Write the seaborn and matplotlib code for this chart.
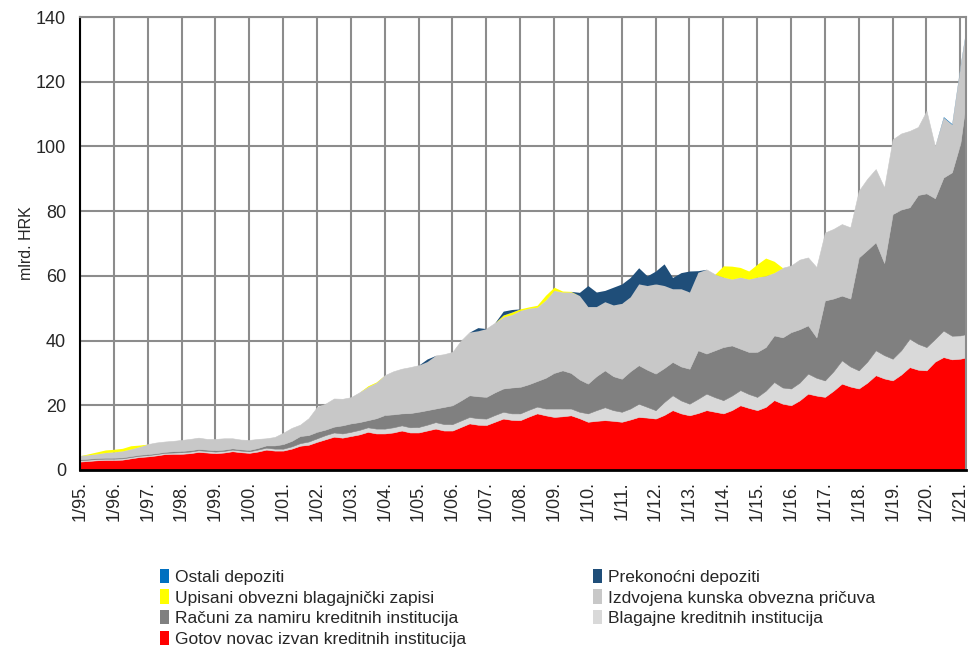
import numpy as np
import pandas as pd
import seaborn as sns
import matplotlib.pyplot as plt
from matplotlib.patches import Patch

# quarterly observations (Jan, Apr, Jul, Oct), last observation Mar 2021
quarters = list(pd.date_range("1995-01-01", "2021-01-01", freq="QS")) + [pd.Timestamp("2021-03-01")]

# mlrd. HRK, one row per year
gotov_novac = [
    2.6, 2.8, 3.0, 3.1,
    3.1, 3.2, 3.6, 4.0,
    4.2, 4.5, 4.9, 5.0,
    5.0, 5.2, 5.6, 5.4,
    5.2, 5.4, 5.8, 5.5,
    5.3, 5.7, 6.3, 6.0,
    6.0, 6.6, 7.5, 7.8,
    8.7, 9.5, 10.3, 10.0,
    10.5, 11.0, 11.8, 11.3,
    11.3, 11.6, 12.2, 11.6,
    11.6, 12.2, 12.8, 12.2,
    12.2, 13.3, 14.4, 14.0,
    13.9, 14.9, 15.9, 15.5,
    15.4, 16.5, 17.5, 16.9,
    16.4, 16.6, 16.9, 16.0,
    14.9, 15.2, 15.4, 15.2,
    14.9, 15.6, 16.4, 16.2,
    15.9, 17.0, 18.5, 17.5,
    16.9, 17.6, 18.5, 18.0,
    17.5, 18.5, 20.0, 19.2,
    18.5, 19.5, 21.6, 20.5,
    20.0, 21.5, 23.6, 23.0,
    22.6, 24.5, 26.7, 25.8,
    25.2, 27.0, 29.3, 28.3,
    27.7, 29.5, 31.8, 31.0,
    30.8, 33.5, 34.9, 34.2,
    34.4, 34.8,
]
blagajne = [
    0.4, 0.4, 0.4, 0.4,
    0.4, 0.4, 0.4, 0.4,
    0.4, 0.4, 0.4, 0.4,
    0.5, 0.5, 0.5, 0.5,
    0.5, 0.5, 0.5, 0.5,
    0.5, 0.6, 0.6, 0.6,
    0.6, 0.7, 0.8, 1.0,
    1.1, 1.3, 1.3, 1.3,
    1.3, 1.4, 1.4, 1.5,
    1.5, 1.6, 1.6, 1.6,
    1.7, 1.8, 2.0, 2.0,
    2.0, 2.0, 2.0, 2.0,
    2.0, 2.1, 2.1, 2.0,
    2.1, 2.1, 2.1, 2.1,
    2.6, 2.4, 2.1, 2.0,
    2.6, 3.3, 4.0, 3.3,
    3.1, 3.4, 4.1, 3.3,
    2.6, 4.0, 4.6, 4.0,
    3.6, 4.4, 5.1, 4.5,
    4.1, 4.5, 4.7, 4.3,
    4.1, 5.0, 5.6, 5.0,
    5.2, 5.5, 6.2, 5.5,
    5.1, 6.0, 7.2, 6.2,
    5.6, 6.5, 7.7, 7.2,
    6.7, 7.5, 8.8, 8.0,
    7.2, 7.0, 8.2, 7.3,
    7.2, 7.2,
]
racuni = [
    0.3, 0.3, 0.3, 0.3,
    0.3, 0.3, 0.3, 0.3,
    0.3, 0.3, 0.3, 0.4,
    0.4, 0.4, 0.4, 0.4,
    0.4, 0.4, 0.4, 0.4,
    0.4, 0.5, 0.7, 1.0,
    1.4, 1.7, 2.2, 2.0,
    2.0, 1.7, 1.8, 2.5,
    2.6, 2.4, 2.2, 3.2,
    4.2, 4.0, 3.7, 4.4,
    4.7, 4.5, 4.2, 5.3,
    5.8, 6.2, 6.7, 6.8,
    6.7, 7.0, 7.2, 8.0,
    8.2, 7.9, 7.9, 9.5,
    11.0, 11.8, 11.0, 10.0,
    9.2, 10.5, 11.4, 10.5,
    10.2, 11.5, 11.9, 11.5,
    11.3, 10.5, 10.3, 10.5,
    10.8, 15.0, 12.4, 14.5,
    16.4, 15.5, 12.8, 13.0,
    13.9, 13.5, 14.4, 15.5,
    17.4, 16.5, 14.9, 12.5,
    24.7, 22.5, 20.0, 21.0,
    34.9, 34.5, 33.4, 28.5,
    44.7, 43.5, 40.6, 46.0,
    47.5, 43.5, 47.3, 50.5,
    59.4, 72.0,
]
pricuva = [
    1.1, 1.2, 1.3, 1.6,
    1.8, 2.0, 2.2, 2.5,
    3.1, 3.3, 3.2, 3.2,
    3.4, 3.5, 3.5, 3.3,
    3.5, 3.5, 3.1, 3.0,
    3.1, 2.8, 2.2, 2.6,
    3.5, 4.0, 3.5, 5.2,
    7.7, 8.0, 8.7, 8.2,
    8.1, 9.2, 10.3, 11.0,
    12.3, 13.3, 13.8, 14.2,
    14.4, 15.0, 16.4, 16.3,
    16.5, 18.5, 19.5, 20.2,
    21.1, 21.5, 22.1, 22.5,
    23.6, 23.5, 22.8, 24.0,
    25.5, 24.2, 25.0, 25.9,
    23.8, 21.5, 21.2, 22.0,
    23.3, 23.0, 25.1, 26.0,
    27.7, 25.5, 22.6, 24.0,
    23.7, 24.1, 26.0, 23.5,
    21.6, 20.5, 22.1, 22.5,
    23.1, 22.0, 19.4, 21.5,
    20.6, 21.5, 21.0, 21.7,
    21.0, 21.5, 22.1, 22.0,
    20.6, 22.0, 22.6, 23.3,
    23.1, 23.5, 23.6, 21.0,
    25.5, 16.0, 18.6, 14.8,
    24.0, 22.0,
]
upisani_zapisi = [
    0.0, 0.3, 0.6, 0.8,
    0.8, 0.8, 1.0, 0.5,
    0.0, 0.0, 0.0, 0.0,
    0.0, 0.0, 0.0, 0.0,
    0.0, 0.0, 0.0, 0.0,
    0.0, 0.0, 0.0, 0.0,
    0.0, 0.0, 0.0, 0.0,
    0.0, 0.0, 0.0, 0.0,
    0.0, 0.0, 0.3, 0.2,
    0.0, 0.0, 0.0, 0.0,
    0.0, 0.0, 0.0, 0.0,
    0.0, 0.0, 0.0, 0.0,
    0.0, 0.0, 0.6, 0.8,
    0.5, 0.4, 0.6, 1.5,
    1.0, 0.3, 0.2, 0.0,
    0.0, 0.0, 0.0, 0.0,
    0.0, 0.0, 0.0, 0.0,
    0.0, 0.0, 0.0, 0.0,
    0.0, 0.0, 0.0, 0.0,
    3.5, 4.0, 3.0, 2.5,
    4.0, 5.5, 3.5, 0.0,
    0.0, 0.0, 0.0, 0.0,
    0.0, 0.0, 0.0, 0.0,
    0.0, 0.0, 0.0, 0.0,
    0.0, 0.0, 0.0, 0.0,
    0.0, 0.0, 0.0, 0.0,
    0.0, 0.0,
]
prekonocni = [
    0.0, 0.0, 0.0, 0.0,
    0.0, 0.0, 0.0, 0.0,
    0.0, 0.0, 0.0, 0.0,
    0.0, 0.0, 0.0, 0.0,
    0.0, 0.0, 0.0, 0.0,
    0.0, 0.0, 0.0, 0.0,
    0.0, 0.0, 0.0, 0.0,
    0.0, 0.0, 0.0, 0.0,
    0.0, 0.0, 0.0, 0.0,
    0.0, 0.0, 0.0, 0.0,
    0.0, 0.8, 0.0, 0.0,
    0.0, 0.0, 0.0, 1.0,
    0.0, 0.0, 1.2, 0.8,
    0.0, 0.0, 0.0, 0.0,
    0.0, 0.0, 0.0, 1.0,
    6.5, 4.5, 3.5, 5.5,
    6.0, 6.0, 5.0, 3.0,
    4.0, 6.7, 3.5, 5.0,
    6.5, 0.5, 0.0, 0.0,
    0.0, 0.0, 0.0, 0.0,
    0.0, 0.0, 0.0, 0.0,
    0.0, 0.0, 0.0, 0.0,
    0.0, 0.0, 0.0, 0.0,
    0.0, 0.0, 0.0, 0.0,
    0.0, 0.0, 0.0, 0.0,
    0.0, 0.0, 0.0, 0.0,
    0.0, 0.0,
]
ostali = [0.0] * 102 + [0.2, 0.2, 0.2, 0.2]

labels = [
    "Gotov novac izvan kreditnih institucija",
    "Blagajne kreditnih institucija",
    "Računi za namiru kreditnih institucija",
    "Izdvojena kunska obvezna pričuva",
    "Upisani obvezni blagajnički zapisi",
    "Prekonoćni depoziti",
    "Ostali depoziti",
]
colors = ["#ff0000", "#d9d9d9", "#808080", "#c8c8c8", "#ffff00", "#1f4e79", "#0070c0"]

x = np.array([q.year + (q.month - 1) / 12 for q in quarters])
series = [gotov_novac, blagajne, racuni, pricuva, upisani_zapisi, prekonocni, ostali]

sns.set_style("whitegrid")
plt.rcParams["font.family"] = ["Liberation Sans", "DejaVu Sans"]

fig = plt.figure(figsize=(9.71, 6.53), dpi=100)
ax = fig.add_axes([80 / 971, 1 - 470 / 653, 886 / 971, 453 / 653])

polys = ax.stackplot(x, *series, colors=colors, labels=labels)
# thin matching edge only on the layers that are never empty (hides seams)
for i, (p, c) in enumerate(zip(polys, colors)):
    p.set_edgecolor(c)
    p.set_linewidth(0.4 if i < 4 else 0)

ax.set_xlim(1995, x[-1])
ax.set_ylim(0, 140)
years = list(range(1995, 2022))
ax.set_xticks(years)
ax.set_xticklabels([f"1/{y % 100:02d}." for y in years], rotation=90, fontsize=13)
ax.set_yticks(range(0, 141, 20))
ax.tick_params(axis="y", labelsize=13, length=0, pad=10)
ax.tick_params(axis="x", length=0, pad=8)
ax.set_ylabel("mlrd. HRK", fontsize=11.5, labelpad=1)

ax.grid(True, color="#8c8c8c", linewidth=1.5)
ax.set_axisbelow(True)
for side in ["top", "right"]:
    ax.spines[side].set_color("#8c8c8c")
    ax.spines[side].set_linewidth(1.5)
ax.spines["left"].set_color("black")
ax.spines["left"].set_linewidth(1.5)
ax.spines["bottom"].set_color("black")
ax.spines["bottom"].set_linewidth(2)

def handles_for(names):
    return [Patch(facecolor=colors[labels.index(n)], edgecolor="none") for n in names]

left_names = [labels[6], labels[4], labels[2], labels[0]]
right_names = [labels[5], labels[3], labels[1]]
leg_kw = dict(frameon=False, fontsize=12.5, handlelength=0.55, handleheight=0.9,
              handletextpad=0.3, labelspacing=0.25, borderaxespad=0,
              bbox_transform=fig.transFigure, loc="upper left")
leg1 = ax.legend(handles_for(left_names), left_names, bbox_to_anchor=(153 / 971, 1 - 562 / 653), **leg_kw)
ax.add_artist(leg1)
ax.legend(handles_for(right_names), right_names, bbox_to_anchor=(586 / 971, 1 - 562 / 653), **leg_kw)

fig.savefig("out.png", dpi=100)
